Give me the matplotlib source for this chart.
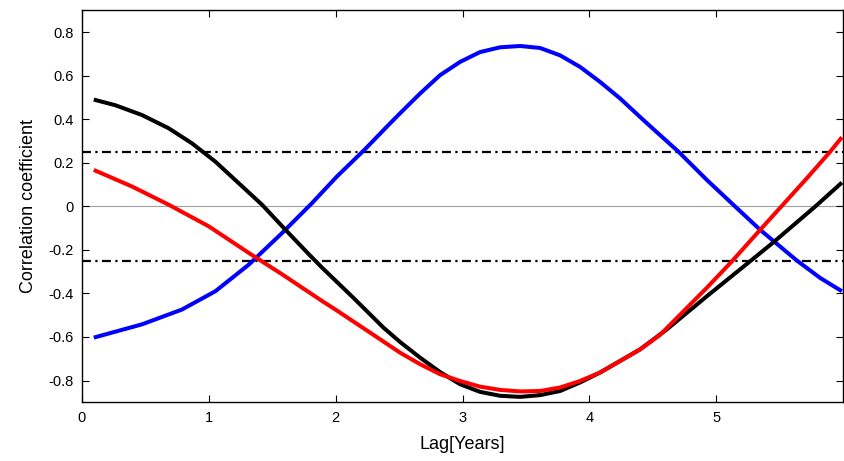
import numpy as np
import matplotlib
matplotlib.use("Agg")
import matplotlib.pyplot as plt
from matplotlib.ticker import FuncFormatter

plt.rcParams['font.family'] = ['Liberation Sans', 'DejaVu Sans']
plt.rcParams['axes.unicode_minus'] = False

# values, lag in years
black_lag = [0.095, 0.265, 0.475, 0.686, 0.869, 1.053, 1.237, 1.421, 1.604, 1.789,
             1.894, 2.140, 2.377, 2.508, 2.666, 2.823, 2.981, 3.138, 3.296, 3.454,
             3.611, 3.769, 3.926, 4.084, 4.242, 4.399, 4.610, 4.925, 5.292, 5.450,
             5.779, 5.989]
black_corr = [0.49, 0.464, 0.419, 0.358, 0.289, 0.205, 0.106, 0.007, -0.107, -0.22,
              -0.282, -0.42, -0.557, -0.623, -0.695, -0.761, -0.817, -0.852, -0.870,
              -0.875, -0.867, -0.848, -0.809, -0.763, -0.710, -0.657, -0.565, -0.413,
              -0.24, -0.165, -0.001, 0.109]

red_lag = [0.095, 0.396, 0.686, 1.001, 1.316, 1.578, 1.894, 2.009, 2.272, 2.508,
           2.666, 2.823, 2.981, 3.138, 3.296, 3.454, 3.611, 3.769, 3.926, 4.084,
           4.242, 4.399, 4.557, 4.925, 5.122, 5.345, 5.516, 5.713, 5.897, 5.989]
red_corr = [0.167, 0.091, 0.007, -0.092, -0.214, -0.312, -0.435, -0.478, -0.58, -0.672,
            -0.725, -0.771, -0.802, -0.828, -0.843, -0.850, -0.848, -0.832, -0.802,
            -0.763, -0.710, -0.657, -0.59, -0.374, -0.253, -0.108, 0.002, 0.129,
            0.251, 0.317]

blue_lag = [0.095, 0.475, 0.790, 1.053, 1.316, 1.578, 1.815, 2.009, 2.232, 2.403,
            2.508, 2.666, 2.823, 2.981, 3.138, 3.296, 3.454, 3.611, 3.769, 3.926,
            4.084, 4.242, 4.399, 4.531, 4.701, 4.925, 5.148, 5.345, 5.634, 5.818,
            5.989]
blue_corr = [-0.603, -0.542, -0.474, -0.390, -0.268, -0.123, 0.015, 0.136, 0.262, 0.365,
             0.427, 0.518, 0.602, 0.663, 0.708, 0.730, 0.736, 0.727, 0.693, 0.640,
             0.571, 0.495, 0.41, 0.34, 0.251, 0.121, -0.001, -0.108, -0.249, -0.329,
             -0.39]

sig_level = 0.25

fig = plt.figure(figsize=(8.45, 4.61), dpi=100)
ax = fig.add_axes([0.0967, 0.1273, 0.9013, 0.8504])

ax.axhline(0, color='#a0a0a0', lw=0.8, zorder=1)
ax.axhline(sig_level, color='black', lw=1.6, ls=(0, (4, 2, 1, 2)), zorder=2)
ax.axhline(-sig_level, color='black', lw=1.6, ls=(0, (4, 2, 1, 2)), zorder=2)

kw = dict(lw=2.9, solid_joinstyle='round', solid_capstyle='butt')
ax.plot(blue_lag, blue_corr, color='#0000ff', zorder=3, **kw)
ax.plot(black_lag, black_corr, color='black', zorder=3, **kw)
ax.plot(red_lag, red_corr, color='#ff0000', zorder=4, **kw)

ax.set_xlim(0, 6)
ax.set_ylim(-0.9, 0.9)
ax.set_xticks([0, 1, 2, 3, 4, 5])
ax.set_yticks(np.arange(-0.8, 0.81, 0.2))
ax.yaxis.set_major_formatter(FuncFormatter(lambda v, p: '%g' % (round(v, 1) + 0.0)))
ax.tick_params(direction='in', top=True, right=True, length=5, width=0.8,
               labelsize=10.5, pad=6)
for s in ax.spines.values():
    s.set_linewidth(1.0)

ax.set_xlabel('Lag[Years]', fontsize=13, labelpad=8)
ax.set_ylabel('Correlation coefficient', fontsize=13, labelpad=8)

fig.savefig('out.png', dpi=100)
